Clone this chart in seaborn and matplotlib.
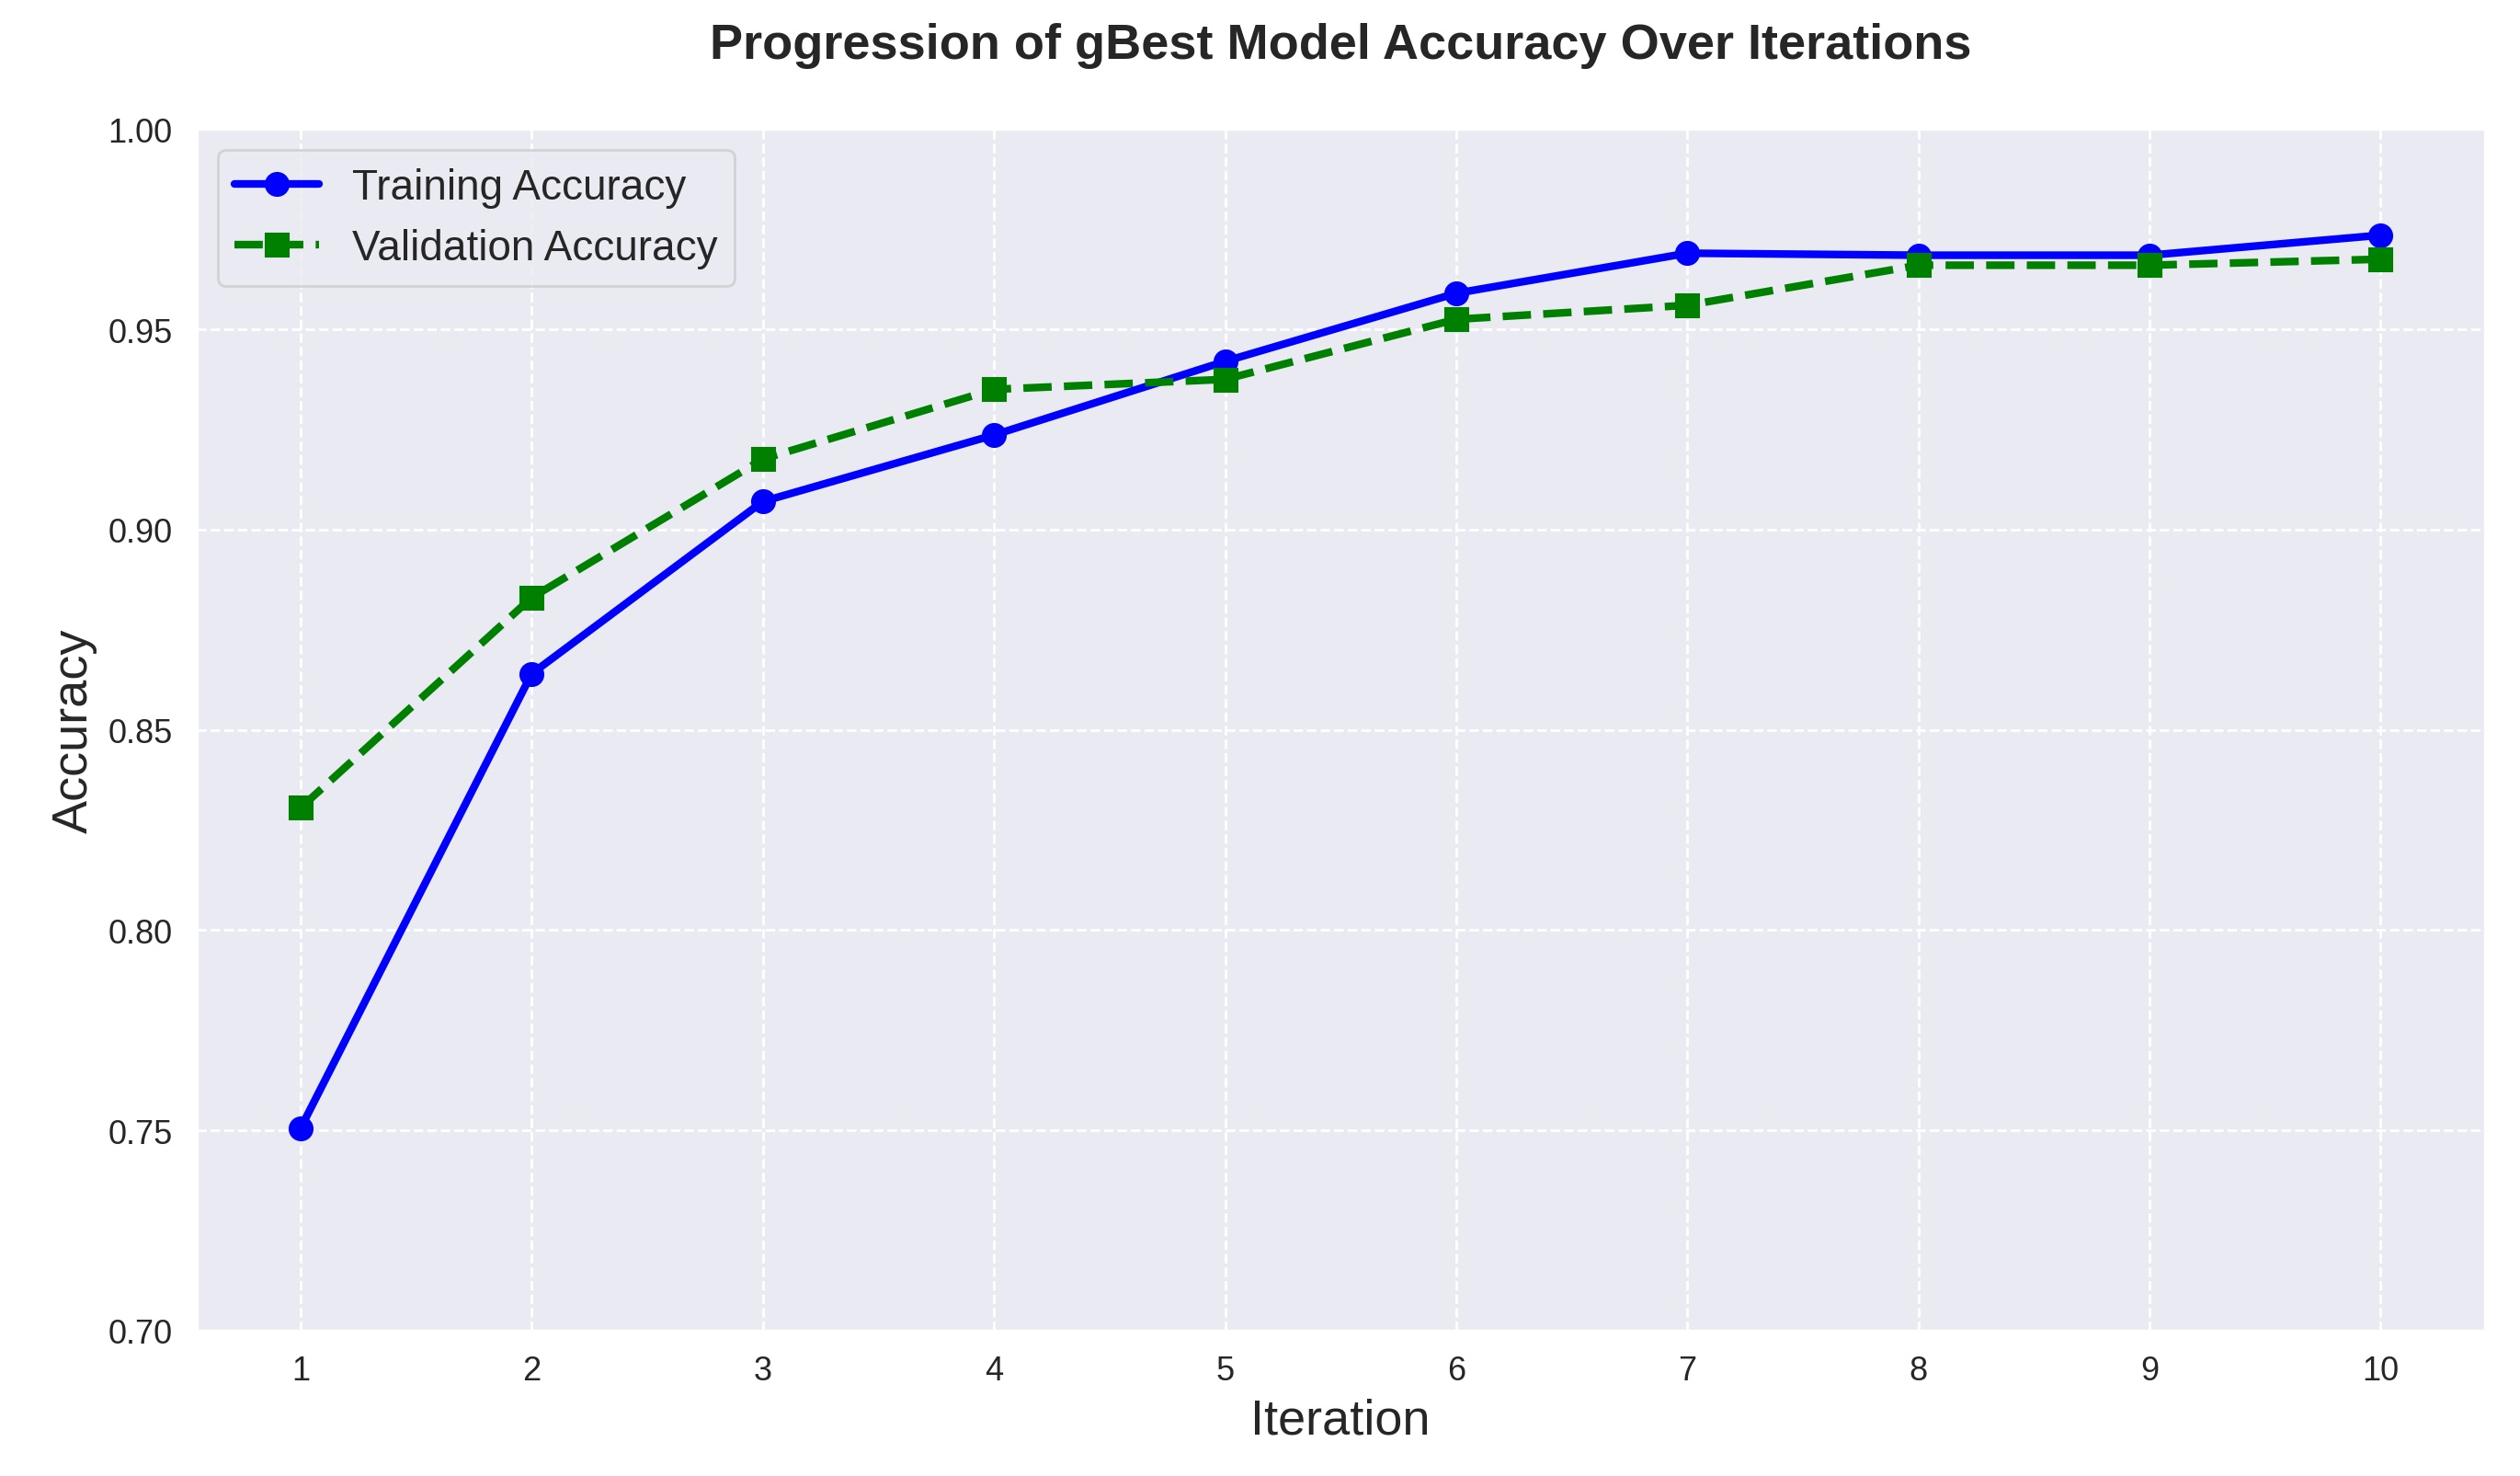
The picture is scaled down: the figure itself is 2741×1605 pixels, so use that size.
import pandas as pd
import numpy as np
import matplotlib.pyplot as plt
import seaborn as sns

# data
iterations = [1, 2, 3, 4, 5, 6, 7, 8, 9, 10]
train_acc = [0.7505, 0.864, 0.907, 0.9236, 0.942, 0.959, 0.969, 0.9685, 0.9685, 0.9735]
val_acc = [0.8305, 0.883, 0.9176, 0.935, 0.9375, 0.9525, 0.956, 0.966, 0.966, 0.9675]

df = pd.DataFrame({
    'Iteration': iterations,
    'Training Accuracy': train_acc,
    'Validation Accuracy': val_acc,
})

sns.set_theme(style="darkgrid", rc={'grid.linestyle': '--'})
plt.rcParams['font.family'] = ['Liberation Sans', 'DejaVu Sans']

fig, ax = plt.subplots(figsize=(13.705, 8.03), dpi=200)
fig.subplots_adjust(left=0.078, right=0.986, top=0.912, bottom=0.0985)

sns.lineplot(x='Iteration', y='Training Accuracy', data=df, ax=ax, color='blue',
             marker='o', markersize=9, linewidth=3, markeredgecolor='blue',
             label='Training Accuracy')
sns.lineplot(x='Iteration', y='Validation Accuracy', data=df, ax=ax, color='green',
             marker='s', markersize=9, linewidth=3, linestyle='--', markeredgecolor='green',
             label='Validation Accuracy')

ax.set_title('Progression of gBest Model Accuracy Over Iterations', fontsize=19.5,
             fontweight='bold', pad=28)
ax.set_xlabel('Iteration', fontsize=19.5)
ax.set_ylabel('Accuracy', fontsize=19.5)
ax.set_xticks(iterations)
ax.set_ylim(0.70, 1.00)
ax.set_yticks(np.arange(0.70, 1.001, 0.05))
ax.tick_params(labelsize=13)
ax.legend(loc='upper left', fontsize=16.5)

plt.savefig('out.png', dpi=200)
plt.close()
